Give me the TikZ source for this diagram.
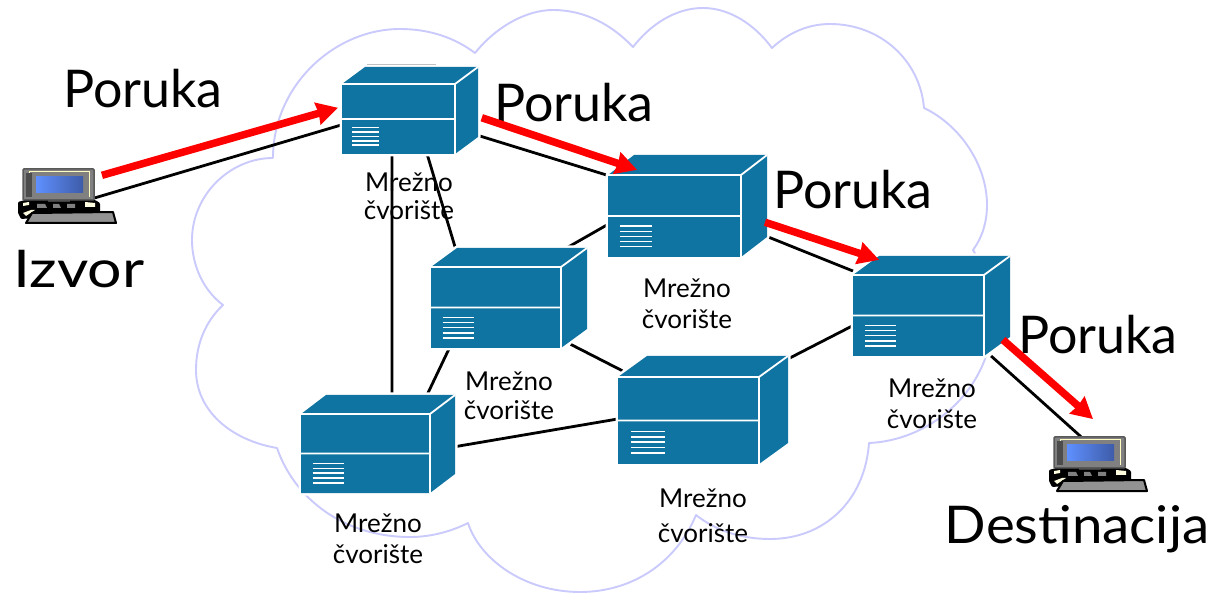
\documentclass[tikz,border=0pt]{standalone}
\usepackage{fontspec}
\setmainfont{Lato}
\usetikzlibrary{arrows.meta}
\definecolor{routerblue}{HTML}{1074A2}
\definecolor{cloudline}{HTML}{CACAFC}
\definecolor{screenA}{HTML}{5F90FF}
\definecolor{screenB}{HTML}{3E5CA8}
\tikzset{
  cloudedge/.style={draw=cloudline,line width=1.9pt,line join=round},
  link/.style={draw=black,line width=2.8pt},
  msg/.style={draw=red,line width=7.5pt,-{Stealth[length=21pt,width=22pt,inset=1pt]}},
  anchorbox/.style={inner sep=0pt,outer sep=0pt,rectangle},
  bigtext/.style={anchor=base,inner sep=0pt,font=\fontsize{52}{52}\selectfont},
  smalltext/.style={anchor=center,inner sep=0pt,align=center,font=\fontsize{26}{31}\selectfont},
}
\newcommand{\boxnode}[5]{%
  \node[anchorbox,minimum width={(#4-#2)*1pt},minimum height={(#5-#3)*1pt}] (#1) at ({(#2+#4)/2},{(#3+#5)/2}) {};}
% front x1 y1 x2 y2, back-right X, back-top Y
\newcommand{\routerface}[6]{%
  \pgfmathsetmacro{\rdx}{#5-#3}%
  \pgfmathsetmacro{\rdy}{#2-#6}%
  \pgfmathsetmacro{\rmid}{(#2+#4)/2}%
  \pgfmathsetmacro{\rxa}{#1+\rdx}%
  \pgfmathsetmacro{\ryb}{#4-\rdy}%
  \pgfmathsetmacro{\ventL}{#1+0.09*(#3-#1)}%
  \pgfmathsetmacro{\ventR}{#1+0.33*(#3-#1)}%
  \fill[white,draw=white,line width=5pt,line join=round] (#1,#2) -- (\rxa,#6) -- (#5,#6) -- (#5,\ryb) -- (#3,#4) -- (#1,#4) -- cycle;
  \fill[routerblue] (#1,#2) -- (\rxa,#6) -- (#5,#6) -- (#5,\ryb) -- (#3,#4) -- (#1,#4) -- cycle;
  \draw[white,line width=1.8pt] (#1,#2) -- (#3,#2) -- (#5,#6) (#3,#2) -- (#3,#4) (#1,\rmid) -- (#3,\rmid);
  \foreach \vf in {0.625,0.6875,0.75,0.8125,0.875}{
    \pgfmathsetmacro{\vy}{#2+\vf*(#4-#2)}
    \draw[white,line width=1.5pt] (\ventL,\vy) -- (\ventR,\vy);
  }}
\newcommand{\laptopface}[2]{%
  \begin{scope}[shift={(#1,#2)}]
    \fill[black,rounded corners=1pt] (-5,33) -- (2,31) -- (72,31) -- (77,34) -- (77,44) -- (-2,50) -- (-5,44) -- cycle;
    \fill[white!88!yellow] (0,34) -- (6,33) -- (6,36) -- (0,37) -- cycle (0,44) -- (8,41) -- (12,41) -- (3,47) -- cycle (62,33) -- (72,34) -- (72,38) -- (62,38) -- cycle;
    \fill[gray] (14,35) -- (22,35) -- (24,39) -- (14,39) -- cycle (30,35) -- (36,35) -- (38,39) -- (30,39) -- cycle (44,35) rectangle (52,39);
    \fill[gray!50!black] (25,30) rectangle (47,33);
    \draw[black,fill=gray!85!white,line width=2pt,line join=round] (3,54) -- (9,44) -- (90,43) -- (93,54) -- cycle;
    \draw[black!65,fill=gray,rounded corners=1pt,line width=1.5pt] (0,0) rectangle (71,31);
    \draw[white!75!yellow,line width=1pt] (6,28) -- (6,3) -- (66,3) -- (66,28);
    \fill[gray!60!black] (3,4) rectangle (9,28);
    \shade[left color=screenA,right color=screenB] (13,8) rectangle (60,24);
  \end{scope}}
\begin{document}
\begin{tikzpicture}[x=1pt,y=-1pt]
\useasboundingbox (0,0) rectangle (1216,593);
\fill[white] (0,0) rectangle (1216,593);
% cloud
\draw[cloudedge] (273,158)
  .. controls (273,85) and (335,29) .. (400,29)
  .. controls (430,29) and (455,38) .. (475,53)
  .. controls (495,28) and (525,10) .. (553,10)
  .. controls (585,10) and (612,25) .. (633,47)
  .. controls (650,25) and (675,8) .. (703,8)
  .. controls (730,8) and (755,25) .. (772,48)
  .. controls (788,33) and (808,24) .. (830,24)
  .. controls (880,24) and (920,60) .. (924,108)
  .. controls (960,125) and (987,165) .. (987,205)
  .. controls (987,222) and (982,238) .. (973,250)
  .. controls (985,270) and (992,295) .. (992,320)
  .. controls (992,385) and (935,440) .. (869,443)
  .. controls (865,500) and (825,539) .. (770,539)
  .. controls (740,539) and (715,530) .. (696,515)
  .. controls (675,565) and (630,592) .. (580,592)
  .. controls (525,592) and (480,560) .. (468,523)
  .. controls (450,532) and (430,537) .. (410,537)
  .. controls (345,537) and (295,500) .. (277,448)
  .. controls (230,440) and (196,410) .. (196,370)
  .. controls (196,342) and (207,320) .. (223,305)
  .. controls (203,290) and (192,265) .. (192,240)
  .. controls (192,195) and (230,158) .. (273,158);
% anchor boxes
\boxnode{r1}{341}{67}{478}{154}
\boxnode{r2}{608}{155}{767}{257}
\boxnode{r3}{431}{248}{587}{348}
\boxnode{r4}{301}{395}{455}{493}
\boxnode{r5}{618}{356}{788}{464}
\boxnode{r6}{853}{256}{1010}{356}
\boxnode{src}{23}{169}{94}{200}
\boxnode{dst}{1054}{437}{1125}{468}
% links
\draw[link] (src.339) -- (r1.192.7);
\draw[link] (r1.340.7) -- (r2.159.3);
\draw[link] (r1.292.4) -- (r3.137);
\draw[link] (r1.248.1) -- (r4.74);
\draw[link] (r3.220.8) -- (r4.45);
\draw[link] (r4.358.3) -- (r5.186.4);
\draw[link,shorten <=-8pt,shorten >=-5pt] (r3.324) -- (r5.154.5);
\draw[link] (r2.193) -- (r3.41.3);
\draw[link] (r6.194) -- (r5.31);
\draw[link] (r2.339) -- (r6.156);
\draw[link] (r6.320) -- (dst.118.7);
% routers
\draw[black!70,line width=1.4pt] (367,65) -- (436,65);
\routerface{342}{84}{455}{154}{478}{67}
\routerface{608}{175}{741}{257}{767}{155}
\routerface{431}{267}{561}{348}{587}{248}
\routerface{301}{414}{430}{493}{455}{395}
\routerface{618}{377}{759}{464}{788}{356}
\routerface{853}{275}{984}{356}{1010}{256}
\laptopface{23}{169}
\laptopface{1054}{437}
% labels
\node[smalltext] (t1) at (409,196) {Mrežno\\[-3pt]čvorište};
\node[smalltext] (t2) at (687,304) {Mrežno\\čvorište};
\node[smalltext] (t3) at (509,396) {Mrežno\\[-2pt]čvorište};
\node[smalltext] (t4) at (378,539) {Mrežno\\čvorište};
\node[smalltext] (t5) at (703,516) {Mrežno\\[4pt]čvorište};
\node[smalltext] (t6) at (932,404) {Mrežno\\čvorište};
\node[bigtext] (p1) at (143,108) {Poruka};
\node[bigtext] (p2) at (574,122) {Poruka};
\node[bigtext] (p3) at (853,209) {Poruka};
\node[bigtext] (p4) at (1098,354) {Poruka};
\node[bigtext] (iz) at (79,288) {\scalebox{1.17}[1]{Izvor}};
\node[bigtext] (de) at (1077,543) {\scalebox{1.05}[1]{Destinacija}};
% messages
\draw[msg,shorten <=8.3pt,shorten >=3.1pt] (src.11.5) -- (r1.177.2);
\draw[msg,shorten <=4pt,shorten >=-30.7pt] (r1.355.7) -- (r2.150.4);
\draw[msg,shorten <=-2.1pt,shorten >=-12.3pt] (r2.348.8) -- (r6.142.5);
\draw[msg,shorten <=-9.4pt,shorten >=27.1pt] (r6.333.5) -- (dst.33);
\end{tikzpicture}
\end{document}
